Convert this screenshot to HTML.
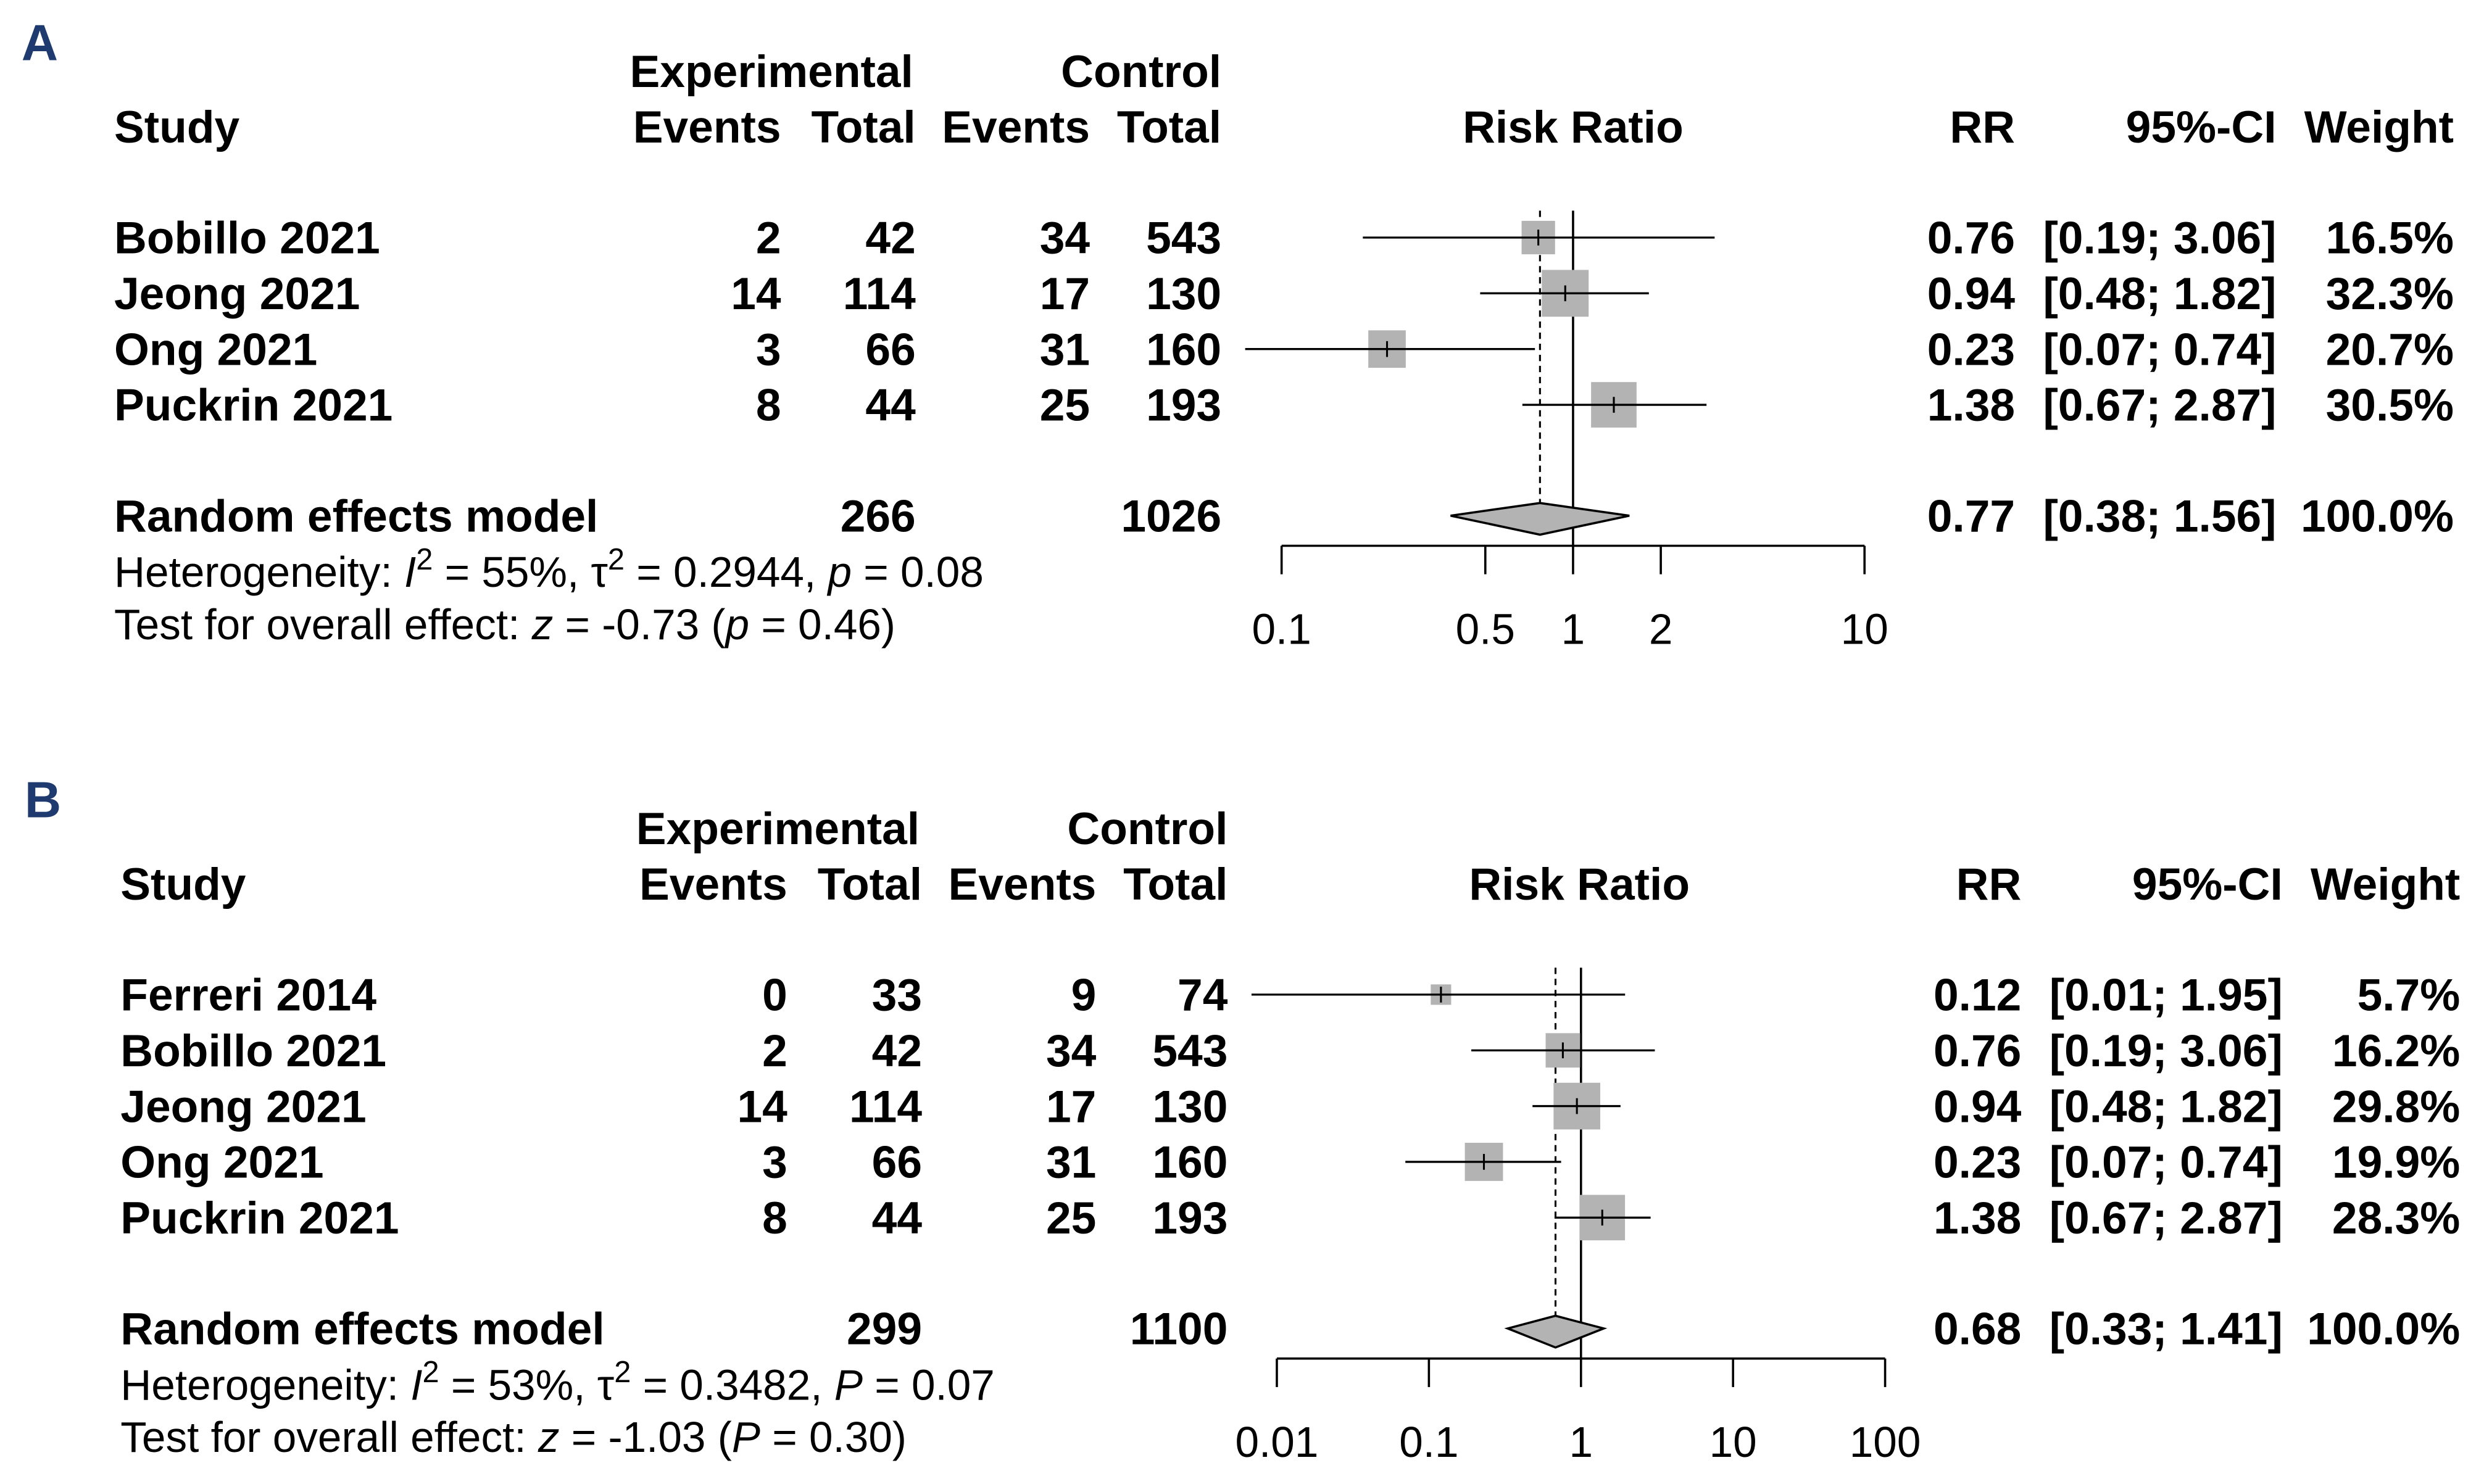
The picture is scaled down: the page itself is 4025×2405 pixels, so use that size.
<!DOCTYPE html>
<html><head><meta charset="utf-8"><style>
html,body{margin:0;padding:0;background:#fff}
svg{display:block}
text{font-family:"Liberation Sans",Arial,sans-serif;fill:#000}
.b{font-weight:bold;font-size:28.5px}
.n{font-size:27px}
</style></head><body>
<svg id="chart" width="4025" height="2405" viewBox="0 0 1568 937" xmlns="http://www.w3.org/2000/svg">
<rect width="1568" height="937" fill="#fff"/>
</svg>
<script>
// Panel A data
const studiesA = ["Bobillo 2021","Jeong 2021","Ong 2021","Puckrin 2021"];
const expEventsA = [2,14,3,8];
const expTotalA = [42,114,66,44];
const ctlEventsA = [34,17,31,25];
const ctlTotalA = [543,130,160,193];
const rrA = [0.76,0.94,0.23,1.38];
const lowA = [0.19,0.48,0.07,0.67];
const highA = [3.06,1.82,0.74,2.87];
const weightA = [16.5,32.3,20.7,30.5];
const pooledA = [0.77,0.38,1.56];
const totalsA = [266,1026];
const ticksA = [0.1,0.5,1,2,10];
const tickLabelsA = ["0.1","0.5","1","2","10"];
// Panel B data
const studiesB = ["Ferreri 2014","Bobillo 2021","Jeong 2021","Ong 2021","Puckrin 2021"];
const expEventsB = [0,2,14,3,8];
const expTotalB = [33,42,114,66,44];
const ctlEventsB = [9,34,17,31,25];
const ctlTotalB = [74,543,130,160,193];
const rrB = [0.12,0.76,0.94,0.23,1.38];
const lowB = [0.01,0.19,0.48,0.07,0.67];
const highB = [1.95,3.06,1.82,0.74,2.87];
const weightB = [5.7,16.2,29.8,19.9,28.3];
const pooledB = [0.68,0.33,1.41];
const totalsB = [299,1100];
const ticksB = [0.01,0.1,1,10,100];
const tickLabelsB = ["0.01","0.1","1","10","100"];

const svg = document.getElementById('chart');
const NS = "http://www.w3.org/2000/svg";
function el(tag, attrs, parent){const e=document.createElementNS(NS,tag);for(const k in attrs)e.setAttribute(k,attrs[k]);(parent||svg).appendChild(e);return e;}
function txt(x,y,s,cls,anchor,parent){const t=el('text',{x:x,y:y+10,class:cls,'text-anchor':anchor||'start'},parent);t.textContent=s;return t;}
function fmt(v){return v.toFixed(2);}

function panel(cfg){
  const g = el('g',{});
  
  
  const dx = cfg.dx, y0 = cfg.y0;
  const lbl = txt(cfg.labelX, y0-52, cfg.label, 'b', 'middle', g);
  lbl.setAttribute('style','fill:#1f3a6e;font-size:32px;font-weight:900');
  
  
  const h = el('g',{},g);
  
  
  txt(487+dx, y0-35, 'Experimental','b','middle',h);
  txt(771+dx, y0-35, 'Control','b','end',h);
  txt(72+dx, y0, 'Study','b','start',h);
  txt(493+dx, y0, 'Events','b','end',h);
  txt(578+dx, y0, 'Total','b','end',h);
  txt(688+dx, y0, 'Events','b','end',h);
  txt(771+dx, y0, 'Total','b','end',h);
  txt(993+dx, y0, 'Risk Ratio','b','middle',h);
  txt(1272+dx, y0, 'RR','b','end',h);
  txt(1437+dx, y0, '95%-CI','b','end',h);
  txt(1549+dx, y0, 'Weight','b','end',h);
  const x = v => cfg.x1 + Math.log10(v)*cfg.dec;
  const rowY = i => y0 + 70 + i*35.2;
  const nR = cfg.studies.length;
  const pY = rowY(nR-1) + 70;
  const axY = pY + 19;
  const ref = el('line',{x1:x(1),x2:x(1),y1:y0+53,y2:axY,stroke:'#000','stroke-width':1.4},g);
  
  
  const pl = el('line',{x1:x(cfg.pooled[0]),x2:x(cfg.pooled[0]),y1:y0+53,y2:pY,stroke:'#000','stroke-width':1.2,'stroke-dasharray':'4,3'},g);
  
  
  for(let i=0;i<nR;i++){
    const y=rowY(i);
    const r = el('g',{},g);
    
    
    txt(72+dx,y,cfg.studies[i],'b','start',r);
    txt(493+dx,y,String(cfg.ee[i]),'b','end',r);
    txt(578+dx,y,String(cfg.et[i]),'b','end',r);
    txt(688+dx,y,String(cfg.ce[i]),'b','end',r);
    txt(771+dx,y,String(cfg.ct[i]),'b','end',r);
    txt(1272+dx,y,fmt(cfg.rr[i]),'b','end',r);
    txt(1437+dx,y,'['+fmt(cfg.lo[i])+'; '+fmt(cfg.hi[i])+']','b','end',r);
    txt(1549+dx,y,cfg.w[i].toFixed(1)+'%','b','end',r);
    const s = cfg.k*Math.sqrt(cfg.w[i]);
    const sq = el('rect',{x:x(cfg.rr[i])-s/2,y:y-s/2,width:s,height:s,fill:'#b3b3b3'},r);
    
    
    let lx = x(cfg.lo[i]);
    if(lx <= cfg.axisMin + 1) lx = cfg.xmin;
    lx = Math.max(lx, cfg.xmin);
    const ci = el('line',{x1:lx,x2:x(cfg.hi[i]),y1:y,y2:y,stroke:'#000','stroke-width':1.3},r);
    
    
    el('line',{x1:x(cfg.rr[i]),x2:x(cfg.rr[i]),y1:y-5,y2:y+5,stroke:'#000','stroke-width':1.2},r);
  }
  const p = el('g',{},g);
  
  
  txt(72+dx,pY,'Random effects model','b','start',p);
  txt(578+dx,pY,String(cfg.totals[0]),'b','end',p);
  txt(771+dx,pY,String(cfg.totals[1]),'b','end',p);
  txt(1272+dx,pY,fmt(cfg.pooled[0]),'b','end',p);
  txt(1437+dx,pY,'['+fmt(cfg.pooled[1])+'; '+fmt(cfg.pooled[2])+']','b','end',p);
  txt(1549+dx,pY,'100.0%','b','end',p);
  const dm = el('polygon',{points:[x(cfg.pooled[1])+','+pY, x(cfg.pooled[0])+','+(pY-8), x(cfg.pooled[2])+','+pY, x(cfg.pooled[0])+','+(pY+12)].join(' '),fill:'#b3b3b3',stroke:'#000','stroke-width':1.4},p);
  
  
  const ax = el('g',{},g);
  
  
  el('line',{x1:x(cfg.ticks[0]),x2:x(cfg.ticks[cfg.ticks.length-1]),y1:axY,y2:axY,stroke:'#000','stroke-width':1.4},ax);
  cfg.ticks.forEach((t,i)=>{
    el('line',{x1:x(t),x2:x(t),y1:axY,y2:axY+18,stroke:'#000','stroke-width':1.4},ax);
    const tl = txt(x(t),axY+52,cfg.tickLabels[i],'n','middle',ax);
    
    
  });
  const st = el('text',{x:72+dx,y:pY+35+10,class:'n'},g);
  
  
  st.innerHTML = cfg.het;
  const tt = el('text',{x:72+dx,y:pY+68+10,class:'n'},g);
  
  
  tt.innerHTML = cfg.test;
}

panel({name:'panel-a',label:'A',labelX:25,dx:0,y0:80,x1:993,dec:184,xmin:786,axisMin:809,k:5.2,
  studies:studiesA,ee:expEventsA,et:expTotalA,ce:ctlEventsA,ct:ctlTotalA,rr:rrA,lo:lowA,hi:highA,w:weightA,
  pooled:pooledA,totals:totalsA,ticks:ticksA,tickLabels:tickLabelsA,
  het:'Heterogeneity: <tspan font-style="italic">I</tspan><tspan dy="-11" font-size="19">2</tspan><tspan dy="11"> = 55%, τ</tspan><tspan dy="-11" font-size="19">2</tspan><tspan dy="11"> = 0.2944, </tspan><tspan font-style="italic">p</tspan> = 0.08',
  test:'Test for overall effect: <tspan font-style="italic">z</tspan> = -0.73 (<tspan font-style="italic">p</tspan> = 0.46)'});
panel({name:'panel-b',label:'B',labelX:27,dx:4,y0:558,x1:998,dec:96,xmin:790,axisMin:806,k:5.4,
  studies:studiesB,ee:expEventsB,et:expTotalB,ce:ctlEventsB,ct:ctlTotalB,rr:rrB,lo:lowB,hi:highB,w:weightB,
  pooled:pooledB,totals:totalsB,ticks:ticksB,tickLabels:tickLabelsB,
  het:'Heterogeneity: <tspan font-style="italic">I</tspan><tspan dy="-11" font-size="19">2</tspan><tspan dy="11"> = 53%, τ</tspan><tspan dy="-11" font-size="19">2</tspan><tspan dy="11"> = 0.3482,  </tspan><tspan font-style="italic">P</tspan> = 0.07',
  test:'Test for overall effect: <tspan font-style="italic">z</tspan> = -1.03 (<tspan font-style="italic">P</tspan> = 0.30)'});
</script>
</body></html>
